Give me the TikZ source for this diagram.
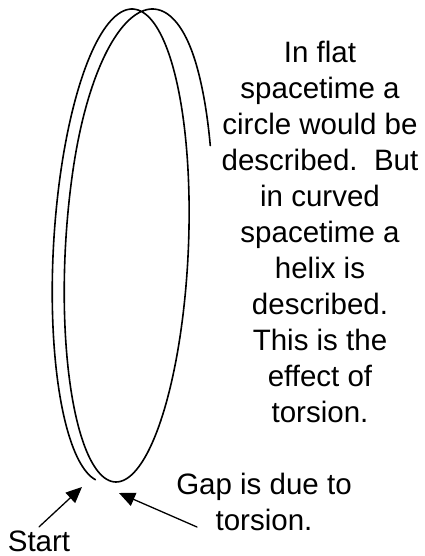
\documentclass[tikz,border=0pt]{standalone}
\usepackage{fontspec}
\setmainfont{Liberation Sans}
\usetikzlibrary{arrows.meta}

\begin{document}
\begin{tikzpicture}[
    x=1pt,
    y=-1pt,
    line cap=round,
    line join=round,
    helix/.style={draw=black, line width=1.6pt},
    pointer/.style={draw=black, line width=1.3pt, -{Triangle[length=16pt,width=14pt]}},
    caption/.style={font=\fontsize{29.5}{36}\selectfont, align=center, inner sep=0pt},
  ]

  \def\cX{115}
  \def\cY{245.5}
  \def\rX{64.5}
  \def\rY{236.5}
  \def\drift{12}
  \def\lean{11}

  % Page frame in pixel units of the reference
  \path[use as bounding box] (0,0) rectangle (425,556);

  % The helix: two turns, the second one drifted to the right
  \draw[helix]
    plot[domain=8:470, samples=220, variable=\t]
      ({\cX - \rX*sin(\t) + \drift*\t/360 - \lean*cos(\t)}, {\cY + \rY*cos(\t)})
    -- plot[domain=470:580, samples=60, variable=\t]
      ({\cX - \rX*sin(\t) + \drift*\t/360 - \lean*cos(\t) + 6*(1 - cos((\t-470)*1.6364))}, {\cY + \rY*cos(\t)})
    -- plot[domain=580:605, samples=15, variable=\t]
      ({\cX - \rX*sin(\t) + \drift*\t/360 - \lean*cos(\t) + 12}, {\cY + \rY*cos(\t)});

  % Texts
  \node[caption] (explain) at (320,232) {In flat\\spacetime a\\circle would be\\described.\ \ But\\in curved\\spacetime a\\helix is\\described.\\This is the\\effect of\\torsion.};
  \node[caption] (gap) at (264,502) {Gap is due to\\torsion.};
  \node[caption, anchor=base, inner sep=3.3pt] (start) at (39,551) {Start};

  % Pointer ends
  \coordinate (startTip) at (82,487);
  \coordinate (gapTail) at (197,527);
  \coordinate (gapTip) at (119,493);

  % Pointers
  \draw[pointer] (start.north) -- (startTip);
  \draw[pointer] (gapTail) -- (gapTip);
\end{tikzpicture}
\end{document}
